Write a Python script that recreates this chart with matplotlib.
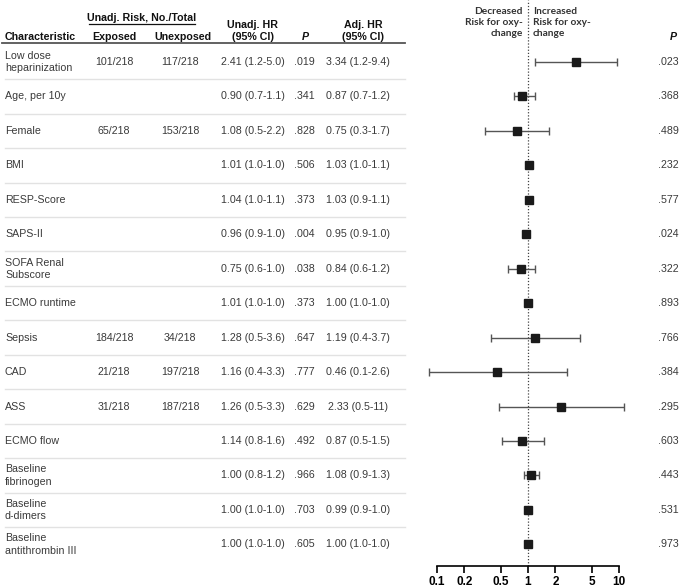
"""Forest plot table: risk factors for oxy-change (unadjusted / adjusted HR)."""

import matplotlib

matplotlib.use("Agg")

import matplotlib.pyplot as plt

characteristics = [
    "Low dose\nheparinization", "Age, per 10y", "Female", "BMI", "RESP-Score",
    "SAPS-II", "SOFA Renal\nSubscore", "ECMO runtime", "Sepsis", "CAD", "ASS",
    "ECMO flow", "Baseline\nfibrinogen", "Baseline\nd-dimers",
    "Baseline\nantithrombin III",
]
exposed = ["101/218", "", "65/218", "", "", "", "", "", "184/218", "21/218",
           "31/218", "", "", "", ""]
unexposed = ["117/218", "", "153/218", "", "", "", "", "", "34/218", "197/218",
             "187/218", "", "", "", ""]
unadj_hr = ["2.41 (1.2-5.0)", "0.90 (0.7-1.1)", "1.08 (0.5-2.2)", "1.01 (1.0-1.0)",
            "1.04 (1.0-1.1)", "0.96 (0.9-1.0)", "0.75 (0.6-1.0)", "1.01 (1.0-1.0)",
            "1.28 (0.5-3.6)", "1.16 (0.4-3.3)", "1.26 (0.5-3.3)", "1.14 (0.8-1.6)",
            "1.00 (0.8-1.2)", "1.00 (1.0-1.0)", "1.00 (1.0-1.0)"]
unadj_p = [".019", ".341", ".828", ".506", ".373", ".004", ".038", ".373",
           ".647", ".777", ".629", ".492", ".966", ".703", ".605"]
adj_hr_text = ["3.34 (1.2-9.4)", "0.87 (0.7-1.2)", "0.75 (0.3-1.7)", "1.03 (1.0-1.1)",
               "1.03 (0.9-1.1)", "0.95 (0.9-1.0)", "0.84 (0.6-1.2)", "1.00 (1.0-1.0)",
               "1.19 (0.4-3.7)", "0.46 (0.1-2.6)", "2.33 (0.5-11)", "0.87 (0.5-1.5)",
               "1.08 (0.9-1.3)", "0.99 (0.9-1.0)", "1.00 (1.0-1.0)"]
adj_p = [".023", ".368", ".489", ".232", ".577", ".024", ".322", ".893",
         ".766", ".384", ".295", ".603", ".443", ".531", ".973"]

# point estimates and CI bounds used for the forest plot
adj_hr = [3.34, 0.87, 0.75, 1.03, 1.03, 0.95, 0.84, 1.00, 1.19, 0.46, 2.33,
          0.87, 1.08, 0.99, 1.00]
adj_lo = [1.2, 0.7, 0.34, 1.01, 0.95, 0.93, 0.6, 0.99, 0.39, 0.082, 0.48,
          0.52, 0.9, 0.97, 0.99]
adj_hi = [9.4, 1.2, 1.7, 1.05, 1.1, 0.97, 1.2, 1.01, 3.7, 2.7, 11.3,
          1.5, 1.32, 1.01, 1.01]

tick_values = [0.1, 0.2, 0.5, 1, 2, 5, 10]

W, H = 685, 587
ROW0, ROW_STEP = 62, 34.45
AXIS_Y = 566
TEXT_COLOR = "#3a3a3a"
TABLE_FONT = "Liberation Sans"
FS = 7.7

fig = plt.figure(figsize=(W / 100, H / 100), dpi=100)

# table layer in pixel coordinates
tab = fig.add_axes([0, 0, 1, 1])
tab.set_xlim(0, W)
tab.set_ylim(H, 0)
tab.axis("off")

header_kw = dict(fontsize=FS, fontweight="bold", color="#111111", family=TABLE_FONT)
tab.text(5, 37, "Characteristic", ha="left", va="center", **header_kw)
tab.text(142, 18, "Unadj. Risk, No./Total", ha="center", va="center", **header_kw)
tab.plot([89, 195], [24, 24], color="#111111", lw=0.9)
tab.text(114, 37, "Exposed", ha="center", va="center", **header_kw)
tab.text(183, 37, "Unexposed", ha="center", va="center", **header_kw)
tab.text(253, 31, "Unadj. HR\n(95% CI)", ha="center", va="center",
         linespacing=1.2, **header_kw)
tab.text(305, 37, "P", ha="center", va="center", style="italic", **header_kw)
tab.text(363, 31, "Adj. HR\n(95% CI)", ha="center", va="center",
         linespacing=1.2, **header_kw)
tab.text(673, 37, "P", ha="center", va="center", style="italic", **header_kw)
tab.plot([2, 405], [43, 43], color="#555555", lw=1.3)

cell_kw = dict(fontsize=FS, color=TEXT_COLOR, family=TABLE_FONT, va="center")
for i, name in enumerate(characteristics):
    y = ROW0 + i * ROW_STEP
    tab.text(5, y, name, ha="left", linespacing=1.3, **cell_kw)
    tab.text(114, y, exposed[i], ha="center", **cell_kw)
    tab.text(180, y, unexposed[i], ha="center", **cell_kw)
    tab.text(253, y, unadj_hr[i], ha="center", **cell_kw)
    tab.text(304, y, unadj_p[i], ha="center", **cell_kw)
    tab.text(358, y, adj_hr_text[i], ha="center", **cell_kw)
    tab.text(679, y, adj_p[i], ha="right", **cell_kw)
    if i < len(characteristics) - 1:
        yd = y + ROW_STEP / 2
        tab.plot([5, 405], [yd, yd], color="#e2e2e2", lw=1.0)

# forest plot, log scale, rows aligned with the table
x_left, x_right = 437, 619
ax = fig.add_axes([x_left / W, (H - AXIS_Y) / H, (x_right - x_left) / W, AXIS_Y / H])
ax.set_xscale("log")
ax.set_xlim(0.1, 10)
ax.set_ylim((AXIS_Y - ROW0) / ROW_STEP, -ROW0 / ROW_STEP)
ax.patch.set_visible(False)

ax.axvline(1, color="#444444", lw=0.9, ls=(0, (1, 1.5)), clip_on=False)
rows = list(range(len(adj_hr)))
xerr = [[h - lo for h, lo in zip(adj_hr, adj_lo)],
        [hi - h for h, hi in zip(adj_hr, adj_hi)]]
ax.errorbar(adj_hr, rows, xerr=xerr, fmt="s", color="#1a1a1a", ms=6,
            ecolor="#555555", elinewidth=1.0, capsize=3, capthick=1.0,
            clip_on=False, zorder=3)

for side in ("left", "right", "top"):
    ax.spines[side].set_visible(False)
ax.spines["bottom"].set_linewidth(1.2)
ax.spines["bottom"].set_bounds(0.1, 10)
ax.set_yticks([])
ax.set_xticks(tick_values)
ax.set_xticklabels([f"{v:g}" for v in tick_values])
ax.minorticks_off()
ax.tick_params(axis="x", direction="out", length=5, width=1.2, pad=2,
               labelsize=8.5)
for lab in ax.get_xticklabels():
    lab.set_fontweight("bold")
    lab.set_family(TABLE_FONT)

note_kw = dict(fontsize=7.3, fontweight="bold", color="#333333", family="Lato",
               va="top", linespacing=1.3)
tab.text(523, 7, "Decreased\nRisk for oxy-\nchange", ha="right", **note_kw)
tab.text(533, 7, "Increased\nRisk for oxy-\nchange", ha="left", **note_kw)

fig.savefig("out.png", dpi=100)
